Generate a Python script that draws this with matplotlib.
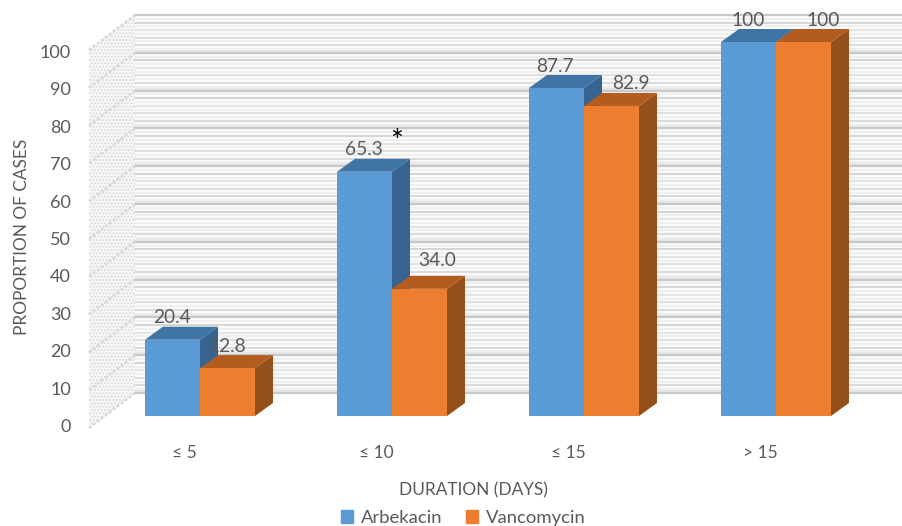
import matplotlib
matplotlib.use('Agg')
import matplotlib.pyplot as plt
from matplotlib.patches import Polygon, Rectangle

plt.rcParams['font.family'] = ['Lato', 'DejaVu Sans']
plt.rcParams['hatch.linewidth'] = 0.8

categories = ['≤ 5', '≤ 10', '≤ 15', '> 15']
arbekacin = [20.4, 65.3, 87.7, 100]
vancomycin = [12.8, 34.0, 82.9, 100]
arbekacin_labels = ['20.4', '65.3', '87.7', '100']
vancomycin_labels = ['12.8', '34.0', '82.9', '100']
y_ticks = [0, 10, 20, 30, 40, 50, 60, 70, 80, 90, 100]

# pixel layout of the picture
PX_CAT = 192.0
PX_VAL = 3.74
CENTER0 = 200
BASE = 416


def dx(px):
    return px / PX_CAT


def dy(px):
    return px / PX_VAL


def to_x(px):
    return (px - CENTER0) / PX_CAT


def to_y(px):
    return (BASE - px) / PX_VAL


fig = plt.figure(figsize=(9.03, 5.26), dpi=100)
ax = fig.add_axes([0, 0, 1, 1])
ax.set_xlim(to_x(0), to_x(903))
ax.set_ylim(to_y(526), to_y(0))
ax.axis('off')


# wall height in px for a given value
def wall_back(v):
    return to_y(393 - 3.78 * v)


def wall_front(v):
    return to_y(428 - 3.78 * v)


# back wall
x0 = to_x(135)
x1 = to_x(903)
ax.add_patch(Rectangle((x0, wall_back(0)), x1 - x0, wall_back(100) - wall_back(0),
                       facecolor='#fafafa', edgecolor='none', zorder=1))
for v in y_ticks:
    # soft band around the major lines
    if v < 100:
        ax.fill_between([x0, x1], wall_back(v), wall_back(v) + 1.2,
                        color='#e6e6e6', lw=0, zorder=1.2)
    ax.plot([x0, x1], [wall_back(v)] * 2, color='#c8c8c8', lw=1.6, zorder=1.5)
    if v < 100:
        for k, g in zip([2, 4, 6, 8], ['#d2d2d2', '#d9d9d9', '#dedede', '#cccccc']):
            ax.plot([x0, x1], [wall_back(v + k)] * 2, color=g, lw=1.1, zorder=1.5)
        for k in [1, 3, 5, 7, 9]:
            ax.plot([x0, x1], [wall_back(v + k)] * 2, color='#efefef', lw=1.4, zorder=1.3)

# side wall
side = [(to_x(89), wall_front(0)), (to_x(135), wall_back(0)),
        (to_x(135), wall_back(100)), (to_x(89), wall_front(100))]
ax.add_patch(Polygon(side, closed=True, facecolor='#f6f6f6', edgecolor='#d8d8d8',
                     hatch='.....', lw=0, zorder=1))
for v in y_ticks:
    ax.plot([to_x(89), to_x(135)], [wall_front(v), wall_back(v)],
            color='#d8d8d8', lw=1.8, ls=(0, (1.2, 0.8)), zorder=1.5)


def bar3d(left, val, front, top, sidec, z):
    w = dx(55)
    ddx = dx(18)
    ddy = dy(13)
    ax.bar(left, val, width=w, align='edge', color=front, lw=0, zorder=z + 0.2)
    ax.add_patch(Polygon([(left, val), (left + w, val), (left + w + ddx, val + ddy), (left + ddx, val + ddy)],
                         closed=True, facecolor=top, lw=0, zorder=z + 0.1))
    ax.add_patch(Polygon([(left + w, 0), (left + w + ddx, ddy), (left + w + ddx, val + ddy), (left + w, val)],
                         closed=True, facecolor=sidec, lw=0, zorder=z))


# label offsets from each bar, px
a_off = [27, 27, 26, 27]
v_off = [27, 45, 47, 47]
v_rise = [22, 28, 22, 22]

for i, cat in enumerate(categories):
    bar3d(i - dx(55), arbekacin[i], '#5b9bd5', '#3f74a5', '#37648e', 3)
    bar3d(i, vancomycin[i], '#ed7d31', '#b35c20', '#96501c', 4)
    ax.text(i - dx(55) + dx(a_off[i]), arbekacin[i] + dy(22), arbekacin_labels[i],
            ha='center', va='center', fontsize=13.8, color='#595959', zorder=6)
    ax.text(i + dx(v_off[i]), vancomycin[i] + dy(v_rise[i]), vancomycin_labels[i],
            ha='center', va='center', fontsize=13.8, color='#595959', zorder=6)
    ax.text(i - dx(15.5), to_y(453), cat, ha='center', va='center', fontsize=12.5, color='#595959')

for v in y_ticks:
    ax.text(to_x(71), to_y(427 - 3.74 * v), str(v), ha='right', va='center',
            fontsize=13, color='#595959')

ax.text(to_x(397), to_y(142), '*', ha='center', va='center', fontsize=22, color='black', zorder=6)
ax.text(to_x(22), to_y(237), 'PROPORTION OF CASES', rotation=90, ha='center', va='center',
        fontsize=12.4, color='#595959')
ax.text(to_x(473), to_y(490), 'DURATION (DAYS)', ha='center', va='center', fontsize=12.4,
        color='#595959')

handles = [Rectangle((0, 0), 1, 1, color='#5b9bd5'), Rectangle((0, 0), 1, 1, color='#ed7d31')]
ax.legend(handles, ['Arbekacin', 'Vancomycin'], ncol=2, frameon=False, loc='center',
          bbox_to_anchor=(463.5 / 903, 1 - 518 / 526), fontsize=13.3, labelcolor='#595959',
          handlelength=0.65, handleheight=0.65, handletextpad=0.4, columnspacing=1.3,
          borderpad=0, borderaxespad=0)

fig.savefig('out.png', dpi=100)
